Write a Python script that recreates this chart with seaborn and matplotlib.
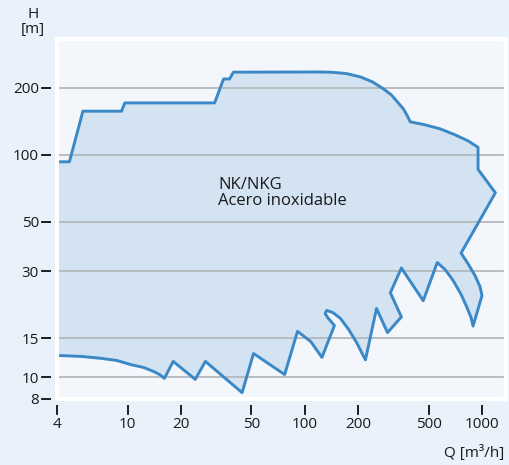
import matplotlib
matplotlib.use('Agg')
import matplotlib.pyplot as plt
import matplotlib.transforms as mtransforms
import seaborn as sns
import pandas as pd
from matplotlib.patches import Rectangle

# outline of the NK/NKG range, Q [m3/h] and H [m]
q_flow = [4.0, 4.7, 5.6, 9.25, 9.65, 31, 34.8, 37.6, 39.6, 120, 140, 170, 206, 241, 278, 308,
          333, 360, 379, 394, 478, 580, 705, 834, 950, 950, 1190, 762, 834, 913, 974, 1000,
          890, 867, 823, 762, 688, 620, 559, 466, 351, 304, 351, 293, 254,
          220, 212, 196, 177, 159, 144, 133, 130.4, 134.7, 147, 125, 108, 91, 77, 51.4, 44.3,
          27.5, 24.1, 18.1, 16.14, 15.13, 13.99, 12.3, 10.5, 8.67, 7.14, 5.52, 4.0]
h_head = [93, 93, 157, 157, 171, 171, 219, 219, 235, 235.5, 234.9, 232, 223.8, 212.5, 197.7, 185.8,
          172.9, 160.8, 149.6, 140.6, 136.3, 130.8, 122.9, 115.5, 108, 86, 67.5, 36.2, 32.4, 28.7, 25.6, 23.3,
          17.0, 18.6, 20.6, 23.6, 27.2, 30.5, 32.8, 22.1, 31.0, 24.0, 18.7, 15.9, 20.4,
          12.0, 12.68, 14.35, 16.4, 18.4, 19.56, 20.0, 19.36, 18.57, 17.1, 12.3, 14.5, 16.1, 10.3, 12.8, 8.54,
          11.8, 9.8, 11.8, 9.9, 10.31, 10.64, 11.09, 11.4, 11.92, 12.17, 12.42, 12.55]

x_ticks = [4, 10, 20, 50, 100, 200, 500, 1000]
y_ticks = [8, 10, 15, 30, 50, 100, 200]

df = pd.DataFrame({'Q': q_flow, 'H': h_head})

sns.set_style('ticks')
plt.rcParams['font.family'] = ['Open Sans', 'DejaVu Sans']

fig = plt.figure(figsize=(5.09, 4.65), dpi=100)
fig.patch.set_facecolor('#e9f1fa')
ax = fig.add_axes([0.112, 0.142, 0.882, 0.774])
ax.set_facecolor('#f3f7fc')

ax.set_xscale('log')
ax.set_yscale('log')
ax.set_xlim(4, 1365)
ax.set_ylim(8, 331)

# filled range + outline
ax.fill(df['Q'], df['H'], color='#d3e3f1', zorder=1)
for y in y_ticks[1:]:
    ax.axhline(y, color='#b4b8bc', lw=1.3, zorder=2)
sns.lineplot(data=df, x='Q', y='H', sort=False, estimator=None, color='#3a88c6',
             lw=2.1, ax=ax, zorder=3)

ax.text(32.5, 67, 'NK/NKG\nAcero inoxidable', fontsize=12, color='#1a1a1a',
        ha='left', va='center', linespacing=1.0)

ax.set_xticks(x_ticks)
ax.set_xticklabels([str(t) for t in x_ticks])
ax.set_yticks(y_ticks)
ax.set_yticklabels([str(t) for t in y_ticks])
ax.minorticks_off()

sns.despine(ax=ax, offset=4)
for side in ['left', 'bottom']:
    ax.spines[side].set_visible(False)

# tick length kept for label spacing, the marks themselves go on the overlay below
ax.tick_params(axis='both', which='major', direction='out', length=7, width=1.2,
               color='#1a1a1a', labelsize=11, labelcolor='#1a1a1a', pad=2,
               bottom=True, left=True, top=False, right=False)

# white frame around the plot area
ax.add_patch(Rectangle((0, 0), 1, 1, transform=ax.transAxes, fill=False,
                       edgecolor='white', lw=3, clip_on=False, zorder=5))

ax.set_xlabel('')
ax.set_ylabel('')

# full-figure overlay axes for the tick marks, so nothing outside the plot area gets cut
ov = fig.add_axes([0, 0, 1, 1], facecolor='none', zorder=10)
ov.set_axis_off()
ov.set_xlim(0, 1)
ov.set_ylim(0, 1)
xt = mtransforms.blended_transform_factory(ax.transData, fig.transFigure)
yt = mtransforms.blended_transform_factory(fig.transFigure, ax.transData)
for t in x_ticks:
    ov.plot([t, t], [0.130, 0.109], transform=xt, color='#1a1a1a', lw=1.1,
            solid_capstyle='butt')
for t in y_ticks:
    ov.plot([0.101, 0.082], [t, t], transform=yt, color='#1a1a1a', lw=1.1,
            solid_capstyle='butt')

fig.text(0.065, 0.985, 'H\n[m]', ha='center', va='top', fontsize=11,
         color='#1a1a1a', linespacing=1.0)
fig.text(0.99, 0.008, 'Q [m³/h]', ha='right', va='bottom', fontsize=11, color='#1a1a1a')

fig.savefig('out.png', dpi=100, facecolor=fig.get_facecolor())
